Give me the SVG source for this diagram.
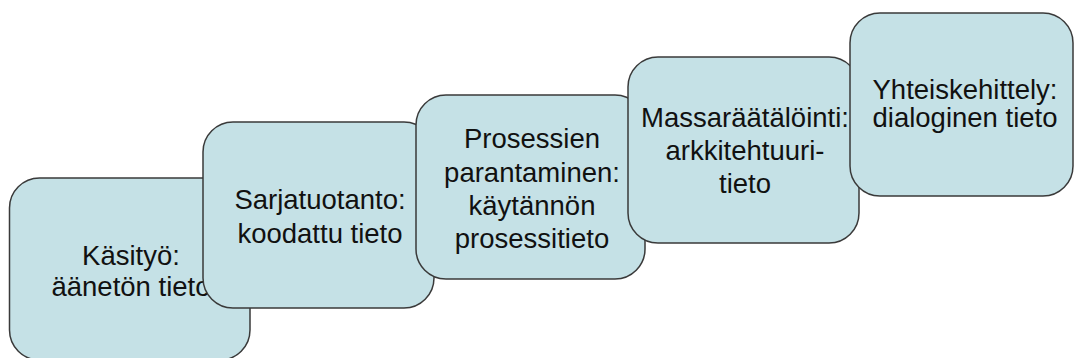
<svg xmlns="http://www.w3.org/2000/svg" width="1074" height="358" viewBox="0 0 1074 358">
  <style>
    .step rect { fill: #c5e1e6; stroke: #3a3a3a; stroke-width: 1.5; }
    .step text { font-family: "Liberation Sans", Arial, sans-serif; font-size: 27.5px; fill: #111111; text-anchor: middle; }
  </style>
  <rect width="1074" height="358" fill="#ffffff"/>
  <!-- staircase of knowledge stages; each later step overlaps the previous one -->
  <g id="connectors"/>
  <g id="kasityo" class="step">
    <rect x="9.5" y="178" width="240.5" height="182" rx="30" ry="30"/>
    <text x="131" y="265">Käsityö:</text>
    <text x="131" y="296">äänetön tieto</text>
  </g>
  <g id="sarjatuotanto" class="step">
    <rect x="203" y="122" width="231" height="186" rx="30" ry="30"/>
    <text x="320" y="209">Sarjatuotanto:</text>
    <text x="320" y="242.5">koodattu tieto</text>
  </g>
  <g id="prosessien-parantaminen" class="step">
    <rect x="416" y="95" width="229" height="184" rx="30" ry="30"/>
    <text x="532" y="148">Prosessien</text>
    <text x="532" y="181.5">parantaminen:</text>
    <text x="532" y="215">käytännön</text>
    <text x="532" y="247.5">prosessitieto</text>
  </g>
  <g id="massaraatalointi" class="step">
    <rect x="628" y="57" width="231" height="186" rx="30" ry="30"/>
    <text x="745" y="127">Massaräätälöinti:</text>
    <text x="745" y="160">arkkitehtuuri-</text>
    <text x="745" y="193">tieto</text>
  </g>
  <g id="yhteiskehittely" class="step">
    <rect x="850" y="13" width="223" height="183" rx="30" ry="30"/>
    <text x="965" y="98.5">Yhteiskehittely:</text>
    <text x="965" y="127">dialoginen tieto</text>
  </g>
</svg>
